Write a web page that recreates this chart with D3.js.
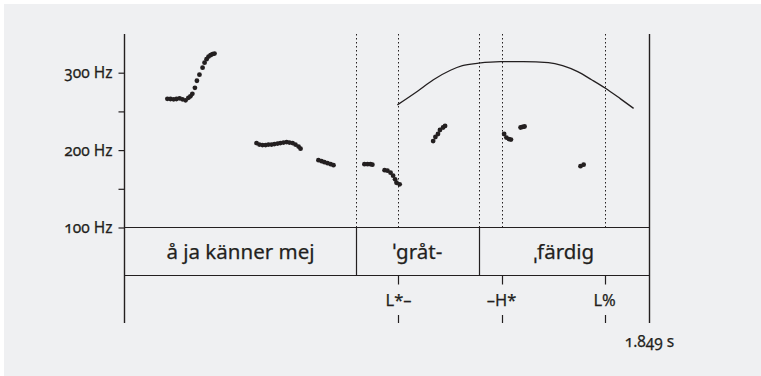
<!DOCTYPE html>
<html><head><meta charset="utf-8">
<script src="https://cdn.jsdelivr.net/npm/d3@7"></script>
<style>
body{margin:0;background:#fff;}
svg{display:block;}
text{font-family:"Noto Sans","Open Sans",sans-serif;fill:#231f20;font-variant-numeric:oldstyle-nums;stroke:#231f20;stroke-width:0.25;}
</style></head>
<body>
<svg id="chart" width="761" height="376"></svg>
<script>
// ---- data ----
const totalDuration = 1.849; // s
// pitch track segments: [time (s), F0 (Hz)]
const pitchSeg1 = [[0.151,266.2],[0.162,266],[0.173,265.6],[0.183,266],[0.194,266.9],[0.204,265.6],[0.215,264.3],[0.225,267.5],[0.232,269.5],[0.239,272.7],[0.248,280.5],[0.255,289.6],[0.264,297.4],[0.275,306.5],[0.282,313],[0.289,317.5],[0.296,320.8],[0.303,322.7],[0.310,324],[0.317,324.7]];
const pitchSeg2 = [[0.465,209.1],[0.475,207.1],[0.486,206.5],[0.497,206.5],[0.507,207.1],[0.518,207.1],[0.528,207.8],[0.539,208.4],[0.549,209.1],[0.560,209.7],[0.571,210.4],[0.581,209.7],[0.592,209.1],[0.602,207.1],[0.613,204.5],[0.620,201.9]];
const pitchSeg3 = [[0.683,187],[0.694,185.7],[0.704,184.4],[0.715,183.1],[0.726,181.8],[0.736,180.5]];
const pitchSeg4 = [[0.845,181.8],[0.856,181.8],[0.866,181.8],[0.873,181.2]];
const pitchSeg5 = [[0.916,174],[0.926,173.4],[0.937,170.8],[0.946,166.9],[0.953,162.3],[0.958,157.8],[0.969,155.8]];
const pitchSeg6 = [[1.087,211.7],[1.095,216.9],[1.104,220.8],[1.111,226],[1.122,229.2],[1.129,231.2]];
const pitchSeg7 = [[1.337,220.8],[1.345,216.2],[1.354,214.3],[1.361,213.6]];
const pitchSeg8 = [[1.395,229.2],[1.402,229.9],[1.409,230.5]];
const pitchSeg9 = [[1.606,179.2],[1.617,181.2]];
// stylized contour: [time (s), Hz]
const contour = [[0.961,258.4],[1.032,276],[1.088,290.9],[1.148,303.2],[1.190,309.1],[1.247,312.3],[1.324,314.3],[1.405,314.3],[1.493,313],[1.543,309.1],[1.596,301.3],[1.645,290.9],[1.694,279.9],[1.747,266.2],[1.793,253.9]];
// word tier
const words = ["å ja känner mej","ˈgråt-","ˌfärdig"];
const wordBounds = [0, 0.817, 1.247, 1.849];
// tone tier
const tones = ["L*–","–H*","L%"];
const toneTimes = [0.965, 1.328, 1.691];
// y ticks
const yTickValues = [100,150,200,250,300];
const yTickLabels = {100:"100 Hz",200:"200 Hz",300:"300 Hz"};
const durationLabel = "1.849 s";

// ---- drawing ----
const svg = d3.select("#chart");
const ink = "#231f20";
svg.append("rect").attr("x",4).attr("y",4).attr("width",757).attr("height",372).attr("fill","#eff0f2");

const x = d3.scaleLinear().domain([0,totalDuration]).range([124.5,649.5]);
const y = d3.scaleLinear().domain([100,350]).range([227.5,34]);
const tierBottom = 275.5, axisBottom = 323;

// dotted vertical lines (boundaries + tones) in pitch area
const dotted = [wordBounds[1], toneTimes[0], wordBounds[2], toneTimes[1], toneTimes[2]];
svg.append("g").selectAll("line").data(dotted).join("line")
  .attr("x1",d=>Math.round(x(d))+0.5).attr("x2",d=>Math.round(x(d))+0.5)
  .attr("y1",y(350)).attr("y2",y(100))
  .attr("stroke",ink).attr("stroke-width",1).attr("stroke-dasharray","1.5,2.5");

// left axis
const yAxis = d3.axisLeft(y).tickValues(yTickValues).tickSize(6).tickPadding(6)
  .tickFormat(d=>yTickLabels[d]||"");
const gy = svg.append("g").attr("transform",`translate(${x(0)},0)`).call(yAxis);
gy.select(".domain").remove();
gy.selectAll(".tick line").attr("stroke",ink).attr("stroke-width",1.2);
gy.selectAll(".tick text").attr("font-size",15.5).attr("fill",ink);

// frame lines
const frame = svg.append("g").attr("stroke",ink).attr("stroke-width",1.4);
frame.append("line").attr("x1",x(0)).attr("x2",x(0)).attr("y1",y(350)).attr("y2",axisBottom);
frame.append("line").attr("x1",x(totalDuration)).attr("x2",x(totalDuration)).attr("y1",y(350)).attr("y2",axisBottom);
frame.append("line").attr("x1",x(0)).attr("x2",x(totalDuration)).attr("y1",y(100)).attr("y2",y(100)).attr("stroke-width",1.2);
frame.append("line").attr("x1",x(0)).attr("x2",x(totalDuration)).attr("y1",tierBottom).attr("y2",tierBottom).attr("stroke-width",1.2);
// word boundaries in tier
frame.selectAll(".wb").data(wordBounds.slice(1,-1)).join("line")
  .attr("x1",d=>Math.round(x(d))+0.5).attr("x2",d=>Math.round(x(d))+0.5)
  .attr("y1",y(100)).attr("y2",tierBottom).attr("stroke-width",1.2);

// word labels
svg.append("g").selectAll("text").data(words).join("text")
  .attr("x",(d,i)=>(x(wordBounds[i])+x(wordBounds[i+1]))/2)
  .attr("y",(y(100)+tierBottom)/2+7)
  .attr("text-anchor","middle").attr("font-size",20.5).text(d=>d);

// tone ticks + labels
const tg = svg.append("g");
tg.selectAll(".t1").data(toneTimes).join("line")
  .attr("x1",d=>Math.round(x(d))+0.5).attr("x2",d=>Math.round(x(d))+0.5)
  .attr("y1",tierBottom).attr("y2",tierBottom+9).attr("stroke",ink).attr("stroke-width",1.2);
tg.selectAll(".t2").data(toneTimes).join("line")
  .attr("x1",d=>Math.round(x(d))+0.5).attr("x2",d=>Math.round(x(d))+0.5)
  .attr("y1",axisBottom-8).attr("y2",axisBottom).attr("stroke",ink).attr("stroke-width",1.2);
tg.selectAll("text").data(tones).join("text")
  .attr("x",(d,i)=>x(toneTimes[i])).attr("y",306)
  .attr("text-anchor","middle").attr("font-size",16.5).text(d=>d);

// duration label
svg.append("text").attr("x",x(totalDuration)).attr("y",347)
  .attr("text-anchor","middle").attr("font-size",15.5).text(durationLabel);

// contour
svg.append("path").datum(contour)
  .attr("d",d3.line().x(d=>x(d[0])).y(d=>y(d[1])).curve(d3.curveMonotoneX))
  .attr("fill","none").attr("stroke",ink).attr("stroke-width",1.3);

// pitch dots
const allPitch = [pitchSeg1,pitchSeg2,pitchSeg3,pitchSeg4,pitchSeg5,pitchSeg6,pitchSeg7,pitchSeg8,pitchSeg9].flat();
svg.append("g").selectAll("circle").data(allPitch).join("circle")
  .attr("cx",d=>x(d[0])).attr("cy",d=>y(d[1])).attr("r",2.4).attr("fill",ink);
</script>
</body></html>
